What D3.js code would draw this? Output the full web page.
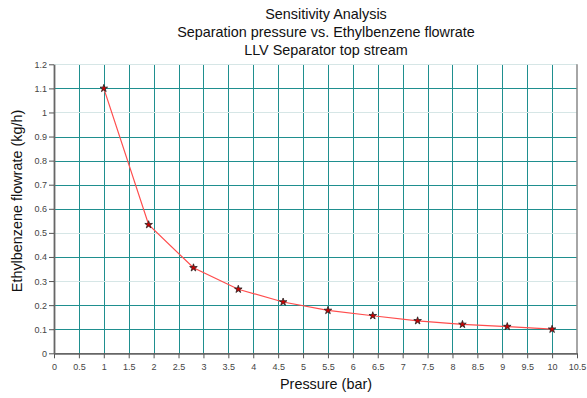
<!DOCTYPE html>
<html><head><meta charset="utf-8">
<script src="https://cdn.jsdelivr.net/npm/d3@7"></script>
<style>body{margin:0;background:#fff}svg{display:block}text{font-family:"Liberation Sans",Arial,sans-serif}</style>
</head><body>
<svg id="c" width="587" height="398"></svg>
<script>
const pressure = [1, 1.9, 2.8, 3.7, 4.6, 5.5, 6.4, 7.3, 8.2, 9.1, 10];
const flowrate = [1.1, 0.534, 0.355, 0.266, 0.213, 0.178, 0.156, 0.135, 0.12, 0.111, 0.1];
const xTicks = d3.range(0, 10.51, 0.5);
const yTicks = d3.range(0, 1.201, 0.1).map(v => +v.toFixed(1));
const lightGrid = [0.3, 0.5, 1.0, 1.2];
const titleLines = ["Sensitivity Analysis", "Separation pressure vs. Ethylbenzene flowrate", "LLV Separator top stream"];

const svg = d3.select("#c");
const m = {l: 54, r: 577, t: 64.3, b: 353.3};
const x = d3.scaleLinear().domain([0, 10.5]).range([m.l, m.r]);
const y = d3.scaleLinear().domain([0, 1.2]).range([m.b, m.t]);
const px = v => Math.round(v) + 0.5;

// grid
svg.append("g").selectAll("line").data(xTicks.filter(d => d > 0 && d < 10.5)).join("line")
  .attr("x1", d => px(x(d))).attr("x2", d => px(x(d))).attr("y1", m.t).attr("y2", m.b)
  .attr("stroke", "#1f8f8f").attr("stroke-width", 1);
svg.append("g").selectAll("line").data(yTicks.filter(d => d > 0)).join("line")
  .attr("x1", m.l).attr("x2", m.r).attr("y1", d => px(y(d))).attr("y2", d => px(y(d)))
  .attr("stroke", d => lightGrid.includes(d) ? "#d6e6e6" : "#1f8f8f").attr("stroke-width", 1);

// right border
svg.append("line").attr("x1", m.r).attr("x2", m.r).attr("y1", m.t).attr("y2", m.b)
  .attr("stroke", "#888").attr("stroke-width", 1.5);

// axes
const xAxis = svg.append("g").attr("transform", `translate(0,${m.b})`)
  .call(d3.axisBottom(x).tickValues(xTicks).tickSize(5).tickSizeOuter(0).tickFormat(d3.format("~g")));
const yAxis = svg.append("g").attr("transform", `translate(${m.l},0)`)
  .call(d3.axisLeft(y).tickValues(yTicks).tickSize(5).tickSizeOuter(0).tickFormat(d3.format("~g")));
[xAxis, yAxis].forEach(a => {
  a.select(".domain").attr("stroke", "#666").attr("stroke-width", 1.8);
  a.selectAll(".tick line").attr("stroke", "#555");
  a.selectAll(".tick text").attr("fill", "#444").style("font-size", "9px");
});
xAxis.selectAll(".tick text").attr("dy", "0").attr("y", 17);
yAxis.selectAll(".tick text").attr("x", -7).attr("dy", "0.33em");

// line
const pts = pressure.map((p, i) => [p, flowrate[i]]);
svg.append("path").datum(pts)
  .attr("d", d3.line().x(d => x(d[0])).y(d => y(d[1])))
  .attr("fill", "none").attr("stroke", "#ff4d4d").attr("stroke-width", 1.2);

// markers
svg.append("g").selectAll("path").data(pts).join("path")
  .attr("transform", d => `translate(${x(d[0])},${y(d[1])})`)
  .attr("d", d3.symbol().type(d3.symbolStar).size(18))
  .attr("fill", "#d00000").attr("stroke", "#222").attr("stroke-width", 0.8);

// titles
svg.append("g").selectAll("text").data(titleLines).join("text")
  .attr("x", 326).attr("y", (d, i) => 19 + i * 18).attr("text-anchor", "middle")
  .style("font-size", "14.4px").attr("fill", "#111").text(d => d);

svg.append("text").attr("x", 326).attr("y", 389).attr("text-anchor", "middle")
  .style("font-size", "14.4px").attr("fill", "#111").text("Pressure (bar)");
svg.append("text").attr("transform", "translate(22,201) rotate(-90)").attr("text-anchor", "middle")
  .style("font-size", "14.4px").attr("fill", "#111").text("Ethylbenzene flowrate (kg/h)");
</script>
</body></html>
